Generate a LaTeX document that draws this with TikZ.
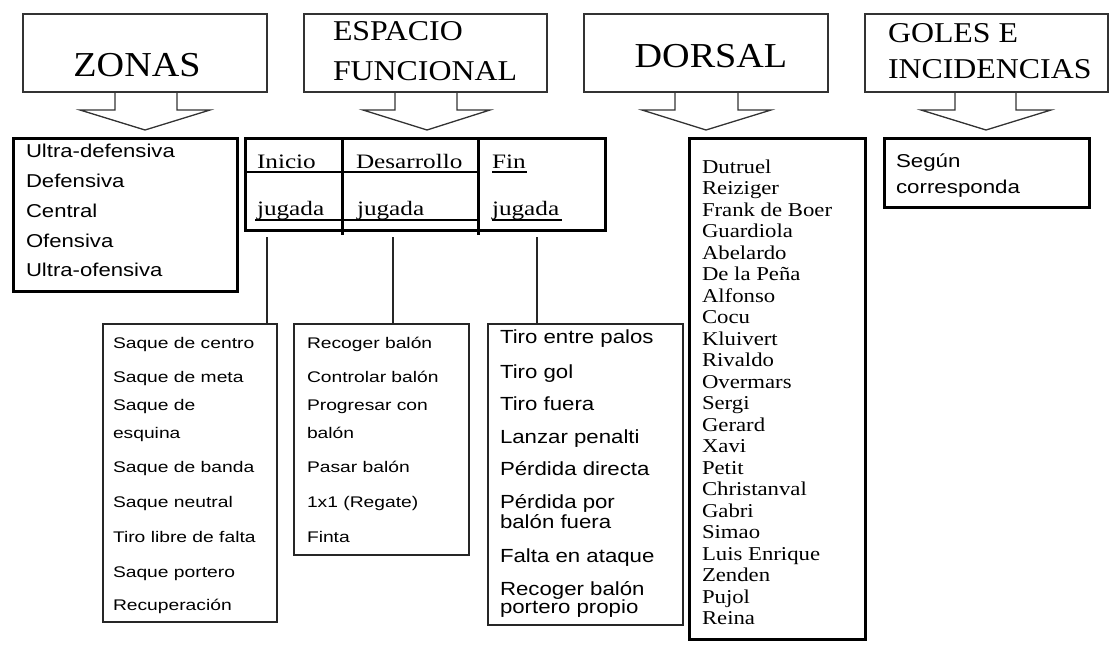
\documentclass[tikz,border=0pt]{standalone}
\usepackage{fontspec}
\setmainfont{Liberation Serif}
\setsansfont{Liberation Sans}
\newcommand{\hs}[2]{\scalebox{#1}[1]{#2}}
\begin{document}
\begin{tikzpicture}[x=1pt,y=-1pt,
  callout/.style={draw=black!80, line width=1.3pt, line join=miter},
  thinbox/.style={draw=black!85, line width=1.3pt, inner sep=0pt, outer sep=0pt, anchor=north west},
  thickbox/.style={draw=black, line width=3pt, inner sep=0pt, outer sep=0pt, anchor=north west},
  conn/.style={draw=black!85, line width=1.3pt},
  tline/.style={draw=black, line width=1.2pt},
  divline/.style={draw=black, line width=3pt},
  txt/.style={anchor=base west, inner sep=0pt, outer sep=0pt},
  bigtitle/.style={anchor=base, inner sep=0pt, font=\fontsize{35}{40}\selectfont},
  midtitle/.style={txt, font=\fontsize{28.7}{40}\selectfont},
  zlist/.style={txt, font=\sffamily\fontsize{18.6}{20}\selectfont},
  tabtxt/.style={txt, font=\fontsize{20.5}{22}\selectfont},
  slist/.style={txt, font=\sffamily\fontsize{15.4}{17}\selectfont},
  flist/.style={txt, font=\sffamily\fontsize{19}{20}\selectfont},
  nlist/.style={txt, font=\fontsize{19.6}{21}\selectfont}
]
\useasboundingbox (0,0) rectangle (1113,649);
\fill[white] (0,0) rectangle (1113,649);

% ---- callouts ----
\draw[callout] (23,14) rectangle (267,92);
\draw[callout] (115,92) -- (115,110) -- (80,110) -- (145,130) -- (210,110) -- (177,110) -- (177,92);
\node[bigtitle] (tzonas) at (137,76) {\hs{1.09}{ZONAS}};

\draw[callout] (304,14) rectangle (547,92);
\draw[callout] (395,92) -- (395,110) -- (363,110) -- (427,130) -- (490,110) -- (457,110) -- (457,92);
\node[midtitle] (tesp1) at (333,40) {\hs{1.11}{ESPACIO}};
\node[midtitle] (tesp2) at (333,80) {\hs{1.11}{FUNCIONAL}};

\draw[callout] (584,14) rectangle (828,92);
\draw[callout] (675,92) -- (675,110) -- (642,110) -- (706,130) -- (771,110) -- (738,110) -- (738,92);
\node[bigtitle] (tdorsal) at (711,67) {\hs{1.09}{DORSAL}};

\draw[callout] (865,14) rectangle (1108,92);
\draw[callout] (955,92) -- (955,110) -- (921,110) -- (986,130) -- (1051,110) -- (1016,110) -- (1016,92);
\node[midtitle] (tgol1) at (888,42) {\hs{1.11}{GOLES E}};
\node[midtitle] (tgol2) at (888,78) {\hs{1.11}{INCIDENCIAS}};

% ---- zonas list ----
\node[thickbox, minimum width=224pt, minimum height=153pt] (zbox) at (13,138) {};
\foreach \t/\y [count=\i] in {Ultra-defensiva/157, Defensiva/187, Central/217, Ofensiva/247, Ultra-ofensiva/276}
  \node[zlist] (z\i) at (26,\y) {\hs{1.19}{\t}};

% ---- table ----
\node[thickbox, minimum width=360pt, minimum height=92pt] (tab) at (245,138) {};
\draw[divline] (342,138) -- (342,235);
\draw[divline] (478,138) -- (478,235);
\draw[tline] (245,172) -- (478,172);
\draw[tline] (255,220) -- (478,220);
\draw[tline] (492,172) -- (527,172);
\draw[tline] (492,220) -- (562,220);
\node[tabtxt] (ini) at (257,168) {\hs{1.23}{Inicio}};
\node[tabtxt] (des) at (356,168) {\hs{1.23}{Desarrollo}};
\node[tabtxt] (fin) at (492,168) {\hs{1.23}{Fin}};
\node[tabtxt] (jini) at (257,215) {\hs{1.23}{jugada}};
\node[tabtxt] (jdes) at (357,215) {\hs{1.23}{jugada}};
\node[tabtxt] (jfin) at (492,215) {\hs{1.23}{jugada}};

% ---- lower boxes ----
\node[thinbox, minimum width=174pt, minimum height=298pt] (inibox) at (103,324) {};
\node[thinbox, minimum width=175pt, minimum height=231pt] (desbox) at (294,324) {};
\node[thinbox, minimum width=195pt, minimum height=301pt] (finbox) at (488,324) {};

\coordinate (cini) at (267,237);
\coordinate (cdes) at (393,237);
\coordinate (cfin) at (537,237);
\draw[conn] (cini) -- (cini |- inibox.north);
\draw[conn] (cdes) -- (cdes |- desbox.north);
\draw[conn] (cfin) -- (cfin |- finbox.north);

\foreach \t/\y [count=\i] in {Saque de centro/348, Saque de meta/382, Saque de/410, esquina/438, Saque de banda/472, Saque neutral/507, Tiro libre de falta/542, Saque portero/577, Recuperación/610}
  \node[slist] (s\i) at (113,\y) {\hs{1.25}{\t}};

\foreach \t/\y [count=\i] in {Recoger balón/348, Controlar balón/382, Progresar con/410, balón/438, Pasar balón/472, 1x1 (Regate)/507, Finta/542}
  \node[slist] (d\i) at (307,\y) {\hs{1.25}{\t}};

\foreach \t/\y [count=\i] in {Tiro entre palos/343, Tiro gol/378, Tiro fuera/410, Lanzar penalti/443, Pérdida directa/475, Pérdida por/508, balón fuera/528, Falta en ataque/562, Recoger balón/595, portero propio/613}
  \node[flist] (f\i) at (500,\y) {\hs{1.17}{\t}};

% ---- dorsal ----
\node[thickbox, minimum width=176pt, minimum height=501pt] (dbox) at (689,138) {};
\foreach \t [count=\i] in {Dutruel, Reiziger, Frank de Boer, Guardiola, Abelardo, De la Peña, Alfonso, Cocu, Kluivert, Rivaldo, Overmars, Sergi, Gerard, Xavi, Petit, Christanval, Gabri, Simao, Luis Enrique, Zenden, Pujol, Reina}
  \node[nlist] (n\i) at (702,{173+21.5*(\i-1)}) {\hs{1.16}{\t}};

% ---- goles ----
\node[thickbox, minimum width=205pt, minimum height=69pt] (gbox) at (884,138) {};
\node[zlist] (g1) at (896,167) {\hs{1.2}{Según}};
\node[zlist] (g2) at (896,193) {\hs{1.2}{corresponda}};
\end{tikzpicture}
\end{document}
